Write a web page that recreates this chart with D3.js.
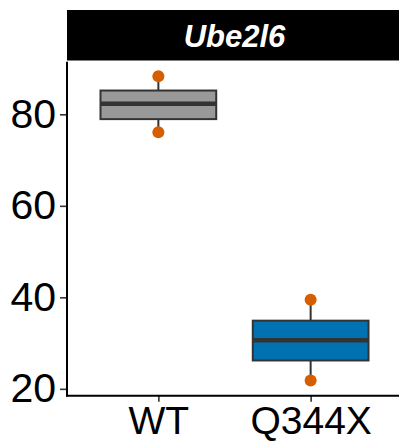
<!DOCTYPE html>
<html>
<head>
<meta charset="utf-8">
<script src="https://cdn.jsdelivr.net/npm/d3@7"></script>
<style>
  body { margin: 0; background: #fff; }
  text { font-family: "Liberation Sans", Arial, sans-serif; }
</style>
</head>
<body>
<div id="chart"></div>
<script>
// Set up conventions
let width = 399;
let height = 442;

// Data
let groups = ["WT", "Q344X"];
let q1 = [78.95, 26.2];
let medians = [82.3, 30.6];
let q3 = [85.2, 34.9];
let mins = [76.1, 21.8];
let maxs = [88.3, 39.45];
let fills = ["#999999", "#0072B2"];
let yTicks = [20, 40, 60, 80];
let title = "Ube2l6";

let svg = d3.select("#chart")
    .append("svg")
    .attr("width", width)
    .attr("height", height)

// x position of each group (discrete, ggplot-like expansion)
let xScale = d3.scaleLinear()
    .domain([0.4, 2.6])
    .range([67, 402])

let yScale = d3.scaleLinear()
    .domain([18.5, 91.5])
    .range([395.7, 61.7])

let boxW = xScale(0.76) - xScale(0)

// strip
svg.append("rect")
    .attr("x", 67)
    .attr("y", 10)
    .attr("width", 340)
    .attr("height", 50.5)
    .attr("fill", "black")

svg.append("text")
    .attr("x", (67 + 402) / 2)
    .attr("y", 46.5)
    .attr("text-anchor", "middle")
    .attr("fill", "white")
    .attr("font-size", 31)
    .attr("font-weight", "bold")
    .attr("font-style", "italic")
    .text(title)

// axes
let yAxis = d3.axisLeft(yScale).tickValues(yTicks).tickSize(7).tickPadding(4)
let gy = svg.append("g")
    .attr("transform", "translate(67,0)")
    .call(yAxis)
gy.select(".domain").remove()
gy.selectAll(".tick line").attr("stroke", "#333").attr("stroke-width", 1.6)
gy.selectAll(".tick text")
    .attr("font-size", 41)
    .attr("fill", "black")
    .attr("font-family", "Liberation Sans, Arial, sans-serif")

let xAxis = d3.axisBottom(xScale).tickValues([1, 2]).tickSize(6).tickPadding(4)
    .tickFormat((d, i) => groups[i])
let gx = svg.append("g")
    .attr("transform", "translate(0,395.7)")
    .call(xAxis)
gx.select(".domain").remove()
gx.selectAll(".tick line").attr("stroke", "#333").attr("stroke-width", 1.6)
gx.selectAll(".tick text")
    .attr("font-size", 39)
    .attr("fill", "black")
    .attr("dy", "0.72em")
    .attr("font-family", "Liberation Sans, Arial, sans-serif")

// axis lines
svg.append("line")
    .attr("x1", 67).attr("x2", 67)
    .attr("y1", yScale(91.5)).attr("y2", 396.6)
    .attr("stroke", "black").attr("stroke-width", 2)
svg.append("line")
    .attr("x1", 66).attr("x2", 402)
    .attr("y1", 395.7).attr("y2", 395.7)
    .attr("stroke", "black").attr("stroke-width", 2)

// boxes
let boxes = svg.selectAll(".box")
    .data(groups)
    .enter()
    .append("g")
    .attr("class", "box")

boxes.append("line")
    .attr("x1", (d, i) => xScale(i + 1))
    .attr("x2", (d, i) => xScale(i + 1))
    .attr("y1", (d, i) => yScale(maxs[i]))
    .attr("y2", (d, i) => yScale(mins[i]))
    .attr("stroke", "#333")
    .attr("stroke-width", 2)

boxes.append("rect")
    .attr("x", (d, i) => xScale(i + 1) - boxW / 2)
    .attr("y", (d, i) => yScale(q3[i]))
    .attr("width", boxW)
    .attr("height", (d, i) => yScale(q1[i]) - yScale(q3[i]))
    .attr("fill", (d, i) => fills[i])
    .attr("stroke", "#333")
    .attr("stroke-width", 2)

boxes.append("line")
    .attr("x1", (d, i) => xScale(i + 1) - boxW / 2)
    .attr("x2", (d, i) => xScale(i + 1) + boxW / 2)
    .attr("y1", (d, i) => yScale(medians[i]))
    .attr("y2", (d, i) => yScale(medians[i]))
    .attr("stroke", "#333")
    .attr("stroke-width", 4.5)

// points
let pts = []
groups.forEach((g, i) => { pts.push({i: i, v: mins[i]}); pts.push({i: i, v: maxs[i]}) })
svg.selectAll(".pt")
    .data(pts)
    .enter()
    .append("circle")
    .attr("class", "pt")
    .attr("cx", d => xScale(d.i + 1))
    .attr("cy", d => yScale(d.v))
    .attr("r", 6)
    .attr("fill", "#D55E00")
</script>
</body>
</html>
